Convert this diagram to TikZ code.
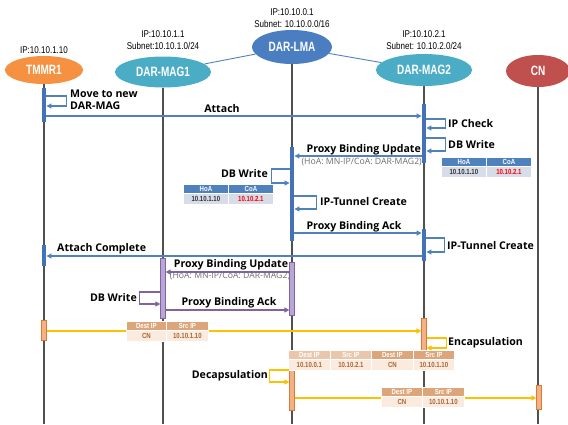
\documentclass[tikz,border=0pt]{standalone}
\usepackage{fontspec}
\setmainfont{Open Sans}
\newfontfamily\condfont[FakeStretch=0.82]{Liberation Sans}
\newfontfamily\headfont[FakeStretch=0.74]{Liberation Sans}
\usetikzlibrary{arrows.meta,shapes.geometric}

\definecolor{lifec}{RGB}{80,80,80}
\definecolor{lineblue}{RGB}{79,129,189}
\definecolor{barblue}{RGB}{68,114,184}
\definecolor{tblhead}{RGB}{79,129,189}
\definecolor{tbldata}{RGB}{214,220,232}
\definecolor{purline}{RGB}{128,100,162}
\definecolor{purfill}{RGB}{184,166,214}
\definecolor{orfill}{RGB}{244,177,131}
\definecolor{orline}{RGB}{214,122,60}
\definecolor{yel}{RGB}{255,192,0}
\definecolor{pkdark}{RGB}{221,165,122}
\definecolor{pklight}{RGB}{234,199,170}
\definecolor{pkdata}{RGB}{251,235,222}
\definecolor{pktext}{RGB}{168,100,52}
\definecolor{subgray}{RGB}{110,110,110}
\definecolor{ctmmr}{RGB}{245,145,65}
\definecolor{cmag}{RGB}{75,172,198}
\definecolor{clma}{RGB}{74,126,192}
\definecolor{ccn}{RGB}{192,80,77}

\tikzset{
  actor/.style={ellipse, inner sep=0pt, text=white,
    font=\headfont\bfseries\fontsize{13.5}{14}\selectfont},
  iplabel/.style={align=center, inner sep=0pt,
    font=\condfont\fontsize{9.8}{11.5}\selectfont},
  life/.style={draw=lifec, line width=1.2pt},
  lnk/.style={draw=lineblue, line width=0.9pt},
  bar/.style={rectangle, minimum width=4.5pt, inner sep=0pt, anchor=north},
  bluebar/.style={bar, fill=barblue},
  purplebar/.style={bar, fill=purfill, draw=purline, line width=0.7pt},
  orangebar/.style={bar, fill=orfill, draw=orline, line width=0.7pt},
  tip/.style={-{Triangle[length=5pt,width=5pt]}},
  bmsg/.style={tip, draw=lineblue, line width=1.1pt},
  pmsg/.style={tip, draw=purline, line width=1.1pt},
  ymsg/.style={tip, draw=yel, line width=1.1pt},
  lbl/.style={inner sep=0pt, font=\bfseries\fontsize{10.6}{12}\selectfont},
  sublbl/.style={inner sep=0pt, text=subgray, font=\fontsize{8.7}{9}\selectfont},
  cell/.style={rectangle, anchor=north west, inner sep=0pt, draw=white,
    line width=0.8pt, font=\condfont\bfseries\fontsize{7.4}{8}\selectfont},
  bhead/.style={cell, fill=tblhead, text=white, minimum height=9pt},
  bdata/.style={cell, fill=tbldata, text=black!80, minimum height=11pt},
  phead/.style={cell, fill=pkdark, text=white, minimum height=9pt},
  pheadl/.style={cell, fill=pklight, text=white, minimum height=9pt},
  pdata/.style={cell, fill=pkdata, text=pktext, minimum height=11pt},
}

\begin{document}
\begin{tikzpicture}[x=1pt,y=-1pt]
\useasboundingbox (0,0) rectangle (568,424);
\coordinate (bottom) at (0,424);

% entities
\node[actor, fill=ctmmr, minimum width=78pt, minimum height=28pt] (tmmr) at (44,70) {TMMR1};
\node[actor, fill=cmag, minimum width=96pt, minimum height=31pt] (mag1) at (163,72) {DAR-MAG1};
\node[actor, fill=clma, minimum width=80pt, minimum height=34pt] (lma) at (292,47) {DAR-LMA};
\node[actor, fill=cmag, minimum width=96pt, minimum height=32pt] (mag2) at (424,70) {DAR-MAG2};
\node[actor, fill=ccn, minimum width=64pt, minimum height=32pt] (cn) at (538,71) {CN};

% addresses
\node[iplabel] (iptmmr) at (44,50) {IP:10.10.1.10};
\node[iplabel] (ipmag1) at (163,40) {IP:10.10.1.1\\Subnet:10.10.1.0/24};
\node[iplabel] (iplma) at (292,18) {IP:10.10.0.1\\Subnet: 10.10.0.0/16};
\node[iplabel] (ipmag2) at (424,40) {IP:10.10.2.1\\Subnet: 10.10.2.0/24};

% links between the anchors
\draw[lnk] (mag1) -- (lma);
\draw[lnk] (lma) -- (mag2);

% lifelines
\draw[life] (tmmr.south) -- (tmmr.south |- bottom);
\draw[life] (mag1.south) -- (mag1.south |- bottom);
\draw[life] (lma.south) -- (lma.south |- bottom);
\draw[life] (mag2.south) -- (mag2.south |- bottom);
\draw[life] (cn.south) -- (cn.south |- bottom);

% activation bars
\node[bluebar, minimum height=34pt] (t1) at (44,88) {};
\node[bluebar, minimum height=59pt] (m2a) at (424,104) {};
\node[bluebar, minimum height=94pt] (l1) at (292,147) {};
\node[bluebar, minimum height=32pt] (m2b) at (424,229) {};
\node[bluebar, minimum height=21pt] (t2) at (44,245) {};
\node[purplebar, minimum height=60pt] (m1p) at (163,258) {};
\node[purplebar, minimum height=53pt] (lp) at (292,262) {};
\node[orangebar, minimum height=20pt] (t3) at (44,320) {};
\node[orangebar, minimum height=34pt] (m2o) at (424,318) {};
\node[orangebar, minimum height=40pt] (lo) at (292,370) {};
\node[orangebar, minimum height=24pt] (cno) at (539,385) {};

% attach phase
\draw[bmsg] (t1.east |- 0,96) -- ++(20,0) |- (t1.east |- 0,106);
\node[lbl, anchor=north west, align=left] (move) at (70,90) {Move to new\\DAR-MAG};
\draw[bmsg] (t1.east |- 0,116) -- (m2a.west |- 0,116);
\node[lbl] (attach) at (222,109) {Attach};
\draw[bmsg] (m2a.east |- 0,119) -- ++(19,0) |- (m2a.east |- 0,128);
\node[lbl, anchor=west] (ipcheck) at (448,124) {IP Check};
\draw[bmsg] (m2a.east |- 0,138) -- ++(19,0) |- (m2a.east |- 0,151);
\node[lbl, anchor=west] (dbw1) at (448,145) {DB Write};

% binding table at DAR-MAG2
\node[bhead, minimum width=45pt] (th1) at (441,157) {HoA};
\node[bhead, minimum width=45pt] (th2) at (486,157) {CoA};
\node[bdata, minimum width=45pt] (td1) at (441,166) {10.10.1.10};
\node[bdata, minimum width=45pt, text=red] (td2) at (486,166) {10.10.2.1};

% proxy binding at the LMA
\draw[bmsg] (m2a.west |- 0,156) -- (l1.east |- 0,156);
\node[lbl, anchor=east] (pbu1) at (421,150) {Proxy Binding Update};
\node[sublbl, anchor=east] (pbu1s) at (422,162) {(HoA: MN-IP/CoA: DAR-MAG2)};
\draw[bmsg] (l1.west |- 0,169) -- ++(-18,0) |- (l1.west |- 0,183);
\node[lbl, anchor=east] (dbw2) at (268,174) {DB Write};
\node[bhead, minimum width=45pt] (lh1) at (183,184) {HoA};
\node[bhead, minimum width=45pt] (lh2) at (228,184) {CoA};
\node[bdata, minimum width=45pt] (ld1) at (183,193) {10.10.1.10};
\node[bdata, minimum width=45pt, text=red] (ld2) at (228,193) {10.10.2.1};
\draw[bmsg] (l1.east |- 0,196) -- ++(22,0) |- (l1.east |- 0,209);
\node[lbl, anchor=west] (tun1) at (320,202) {IP-Tunnel Create};
\draw[bmsg] (l1.east |- 0,233) -- (m2b.west |- 0,233);
\node[lbl] (pba1) at (354,227) {Proxy Binding Ack};
\draw[bmsg] (m2b.east |- 0,238) -- ++(18,0) |- (m2b.east |- 0,252);
\node[lbl, anchor=west] (tun2) at (447,246) {IP-Tunnel Create};
\draw[bmsg] (m2b.west |- 0,256) -- (t2.east |- 0,256);
\node[lbl, anchor=west] (attc) at (57,249) {Attach Complete};

% binding update towards the previous MAG
\draw[pmsg] (lp.west |- 0,272) -- (m1p.east |- 0,272);
\node[lbl] (pbu2) at (231,265) {Proxy Binding Update};
\node[sublbl] (pbu2s) at (230,276) {(HoA: MN-IP/CoA: DAR-MAG2)};
\draw[pmsg] (m1p.west |- 0,292) -- ++(-21,0) |- (m1p.west |- 0,304);
\node[lbl, anchor=east] (dbw3) at (137,298) {DB Write};
\draw[pmsg] (m1p.east |- 0,310) -- (lp.west |- 0,310);
\node[lbl] (pba2) at (229,303) {Proxy Binding Ack};

% data path
\draw[ymsg] (t3.east |- 0,331) -- (m2o.west |- 0,331);
\node[phead, minimum width=40pt] (p1h1) at (126,321) {Dest IP};
\node[phead, minimum width=42pt] (p1h2) at (166,321) {Src IP};
\node[pdata, minimum width=40pt] (p1d1) at (126,330) {CN};
\node[pdata, minimum width=42pt] (p1d2) at (166,330) {10.10.1.10};

\draw[ymsg] (m2o.east |- 0,338) -- ++(20,0) |- (m2o.east |- 0,348);
\node[lbl, anchor=west] (encap) at (448,343) {Encapsulation};
\node[pheadl, minimum width=42pt] (p2h1) at (288,350) {Dest IP};
\node[pheadl, minimum width=41pt] (p2h2) at (330,350) {Src IP};
\node[phead, minimum width=42pt] (p2h3) at (371,350) {Dest IP};
\node[phead, minimum width=41pt] (p2h4) at (413,350) {Src IP};
\node[pdata, minimum width=42pt] (p2d1) at (288,359) {10.10.0.1};
\node[pdata, minimum width=41pt] (p2d2) at (330,359) {10.10.2.1};
\node[pdata, minimum width=42pt] (p2d3) at (371,359) {CN};
\node[pdata, minimum width=41pt] (p2d4) at (413,359) {10.10.1.10};

\draw[ymsg] (lo.west |- 0,370) -- ++(-20,0) |- (lo.west |- 0,382);
\node[lbl, anchor=east] (decap) at (268,376) {Decapsulation};
\draw[ymsg] (lo.east |- 0,398) -- (cno.west |- 0,398);
\node[phead, minimum width=41pt] (p3h1) at (381,387) {Dest IP};
\node[phead, minimum width=42pt] (p3h2) at (422,387) {Src IP};
\node[pdata, minimum width=41pt] (p3d1) at (381,396) {CN};
\node[pdata, minimum width=42pt] (p3d2) at (422,396) {10.10.1.10};
\end{tikzpicture}
\end{document}
